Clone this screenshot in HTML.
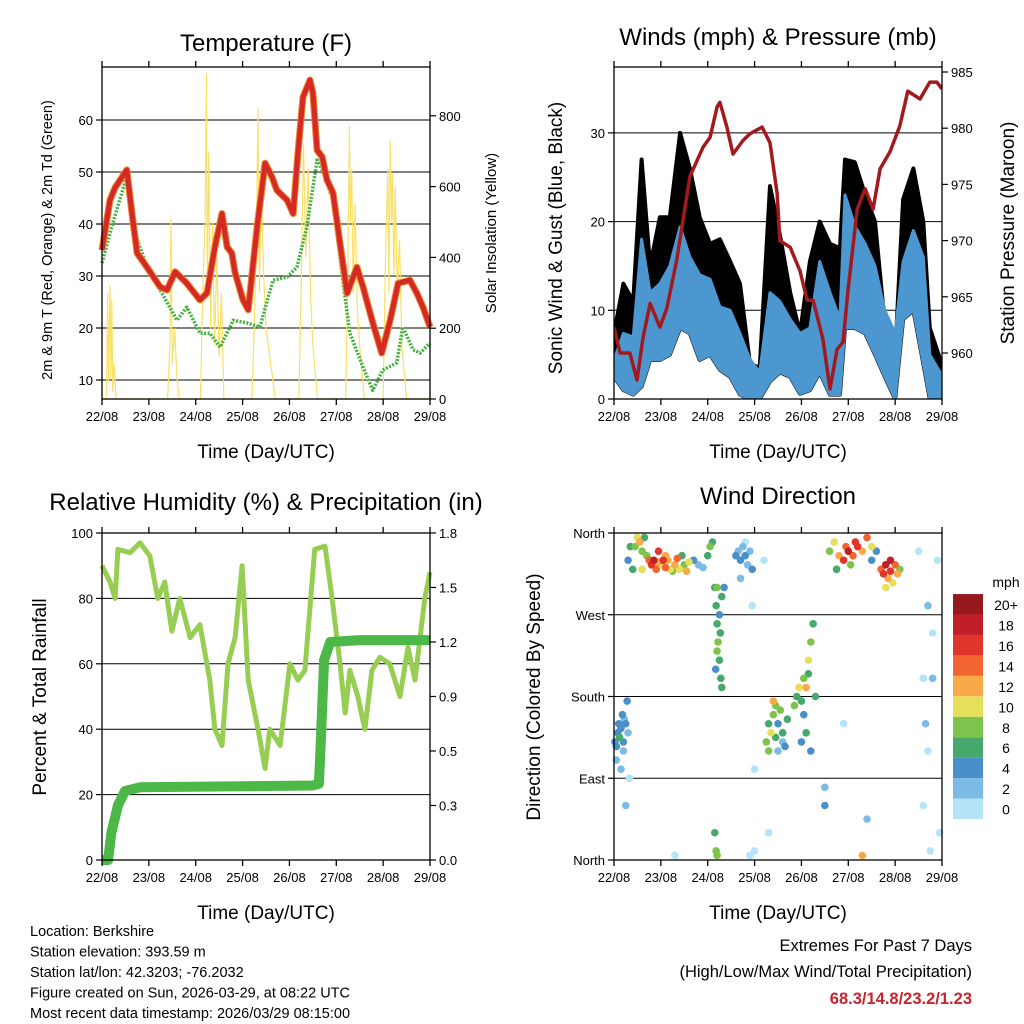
<!DOCTYPE html>
<html><head><meta charset="utf-8"><style>
body{margin:0;background:#fff}
svg{display:block;font-family:"Liberation Sans",sans-serif}
</style></head><body>
<svg id="s" width="1024" height="1024" viewBox="0 0 1024 1024"></svg>
<script>
// ---------- DATA ----------
const dayLabels=["22/08","23/08","24/08","25/08","26/08","27/08","28/08","29/08"];
// Temperature (F) vs time in days
const tempT=[0,0.17,0.28,0.53,0.64,0.75,0.96,1.24,1.39,1.56,1.81,2.09,2.24,2.41,2.56,2.67,2.77,2.84,3.01,3.12,3.31,3.48,3.63,3.73,3.95,4.08,4.18,4.29,4.44,4.5,4.59,4.7,4.8,4.93,5.08,5.23,5.44,5.57,5.78,5.97,6.15,6.32,6.57,6.72,6.85,7];
const tempV=[35,44.6,47,50.4,42,34.4,31.7,27.9,27.3,30.8,28.6,25.4,26.7,35.6,42,35.6,34.4,30.6,25.4,23.5,39.4,51.7,49,46.5,44.6,42,53.6,64.4,67.7,65.2,54.2,52.9,48.5,46,36.3,26.7,31.7,27.9,21,15.2,21.5,28.6,29.2,26.7,24,20.2];
const dewT=[0,0.23,0.55,0.66,0.96,1.24,1.6,1.81,2.09,2.3,2.52,2.8,3.09,3.37,3.65,3.95,4.16,4.37,4.59,4.7,4.93,5.14,5.29,5.57,5.78,5.99,6.29,6.42,6.64,6.79,7];
const dewV=[32.5,40.2,49.8,39.4,31.7,27.3,21.5,24,19,19,16.3,21.5,21,20.2,29.2,29.8,31.7,39.4,52.3,50.4,44.6,29.2,19,12.5,8,11.9,13.3,20.2,15.8,15.2,17.1];
const solarT=[0,0.1,0.12,0.14,0.17,0.19,0.21,0.23,0.26,0.3,1.4,1.45,1.47,1.5,1.55,1.6,1.65,2.1,2.15,2.2,2.23,2.25,2.28,2.32,2.36,2.4,2.45,2.5,2.55,2.6,3.2,3.25,3.3,3.33,3.36,3.4,3.45,3.5,3.6,3.7,4.2,4.25,4.3,4.35,4.4,4.45,4.5,4.6,5.2,5.25,5.28,5.3,5.33,5.36,5.4,5.45,5.5,5.6,6.0,6.05,6.1,6.12,6.15,6.18,6.2,6.23,6.26,6.3,6.35,6.4,6.5,7];
const solarV=[0,0,300,50,320,60,280,20,100,0,0,150,510,100,200,60,0,0,300,500,920,300,700,200,500,150,400,120,300,0,0,200,500,820,300,600,350,200,100,0,0,300,723,400,650,300,150,0,0,400,770,500,650,300,550,250,150,0,0,400,650,300,730,500,640,350,600,300,450,150,0,0];
// Winds (mph)
const windT=[0,0.2,0.41,0.59,0.77,0.98,1.19,1.41,1.62,1.83,2.05,2.26,2.48,2.69,2.9,3.11,3.33,3.54,3.76,3.97,4.18,4.39,4.61,4.82,4.93,5.14,5.36,5.57,5.78,6.0,6.17,6.39,6.6,6.74,6.96,7];
const windMin=[2.5,1,0.5,1.4,4.4,4.4,5,8,7.4,4.4,5,3.3,2.5,0.5,0,0,2,3,2.5,0.6,1,3,0.5,0.5,8,8,7.4,5,2.5,0,9,10,4,0,0,0];
const windMax=[4.4,7.4,7,18,12,13,15,19.4,16,14,13.5,10.4,10,7.4,4.5,3,12,11,9,7.4,8,15.5,12,9,23,19.5,17.5,15,10,7.4,15.5,19,16,5,3,1];
const gustMax=[7.4,13,11,27,15,20.5,20.5,30,26,20.5,17.5,18,15.5,13,4,3.5,24,18.5,12,7.4,15.5,20,17.5,17,27,26.7,23,20,8.5,5,22.5,26,20,8,4.5,2];
const presT=[0,0.13,0.34,0.49,0.62,0.77,0.98,1.13,1.34,1.62,1.9,2.05,2.2,2.26,2.41,2.54,2.75,2.9,3.16,3.33,3.48,3.54,3.76,3.97,4.12,4.25,4.46,4.61,4.76,4.89,4.99,5.19,5.36,5.53,5.68,5.89,6.1,6.27,6.53,6.74,6.89,7];
const presV=[962.3,960,960,957.6,961.4,964.4,962.3,964,968.3,975.7,978.3,979.2,981.9,982.3,980.1,977.7,978.9,979.5,980.1,978.7,974.2,970,969.4,967.3,964.7,964.7,961.2,956.8,960.3,961,965.4,972.8,974.6,972.8,976.4,977.9,980.2,983.3,982.6,984.1,984.1,983.5];
// RH & precip
const rhT=[0,0.17,0.28,0.34,0.6,0.81,1.02,1.19,1.34,1.49,1.66,1.88,2.09,2.3,2.41,2.56,2.69,2.84,2.99,3.12,3.33,3.48,3.58,3.8,4.01,4.18,4.33,4.54,4.76,4.91,5.08,5.19,5.29,5.46,5.61,5.76,5.93,6.14,6.36,6.53,6.68,6.89,7];
const rhV=[90,85,80,95,94,97,93,80,85,70,80,68,72,55,40,35,60,68,90,55,40,28,40,35,60,55,58,95,96,80,60,45,58,50,40,58,62,60,50,65,55,80,88];
const rainT=[0,0.13,0.2,0.34,0.49,0.81,4.5,4.63,4.66,4.74,4.87,5.5,7];
const rainV=[0,0,0.15,0.3,0.38,0.4,0.41,0.42,0.6,1.1,1.2,1.21,1.21];
// Wind direction points: time(days), direction(deg), speed(mph)
const dirPts=[[0.02,130,4],[0.05,125,5],[0.08,140,4],[0.1,150,5],[0.12,135,6],[0.15,145,4],[0.18,160,5],[0.2,130,4],[0.22,155,3],[0.25,150,4],[0.28,175,5],[0.3,140,3],[0.05,110,2],[0.15,100,2],[0.33,90,1],[0.2,120,2],[0.25,60,2],
[0.45,345,8],[0.5,355,10],[0.55,350,12],[0.6,340,8],[0.65,355,6],[0.7,335,9],[0.75,330,14],[0.8,325,16],[0.85,330,18],[0.9,320,14],[0.95,328,12],[1.0,325,10],[1.05,330,16],[1.1,322,14],[1.15,330,12],[1.2,320,10],[1.25,318,8],[1.3,325,12],[1.35,332,14],[1.4,320,10],[1.45,335,6],[1.5,325,8],[1.55,318,12],[1.6,328,10],[1.7,330,4],[1.8,325,2],[1.9,322,3],[2.0,335,6],[2.05,345,8],[2.1,350,6],[0.3,330,4],[0.35,345,6],[0.4,320,6],[0.6,320,10],[0.95,340,16],[1.1,335,12],
[2.15,300,6],[2.18,280,7],[2.2,260,6],[2.22,240,8],[2.25,220,6],[2.28,200,7],[2.3,190,6],[2.2,300,8],[2.3,290,7],[2.25,270,4],[2.35,300,4],[2.15,30,6],[2.18,10,8],[2.2,230,8],[2.27,250,6],[2.17,210,5],
[2.6,335,4],[2.65,340,3],[2.7,330,4],[2.75,345,2],[2.8,335,4],[2.85,325,3],[2.9,340,2],[2.95,320,4],[2.7,310,2],[2.8,350,1],[2.9,5,1],[3.0,10,1],[2.95,280,1],[3.2,330,1],
[3.25,130,8],[3.3,150,6],[3.35,140,10],[3.4,160,8],[3.45,135,6],[3.5,150,4],[3.55,165,8],[3.6,140,6],[3.65,125,4],[3.7,155,6],[3.3,120,8],[3.5,120,2],[3.6,130,2],[3.4,175,12],[3.45,170,9],
[3.85,170,8],[3.9,180,6],[3.95,190,10],[4.0,175,6],[4.05,200,8],[4.1,190,12],[4.15,220,10],[4.2,240,8],[4.25,260,6],[4.3,180,6],[4.0,130,4],[4.1,140,6],[4.2,120,4],[4.15,205,6],[4.05,160,4],
[4.6,340,8],[4.7,350,10],[4.8,335,12],[4.9,330,16],[5.0,340,18],[5.1,335,14],[5.2,345,16],[5.3,340,12],[5.4,355,14],[5.5,345,10],[4.75,320,6],[5.05,325,8],[4.95,345,14],[5.15,350,16],[5.6,340,4],[5.5,330,4],
[5.7,320,14],[5.75,315,16],[5.8,325,18],[5.85,310,12],[5.9,318,16],[5.95,305,10],[6.0,325,14],[6.05,315,12],[6.1,320,8],[5.8,300,10],[5.9,330,18],
[6.5,340,1],[6.6,200,1],[6.65,150,2],[6.7,120,1],[6.8,250,1],[6.9,330,1],[6.95,30,0],[6.6,60,1],[6.75,10,0],[4.5,80,2],[4.5,60,4],[3.0,100,1],[1.3,5,0],[5.3,5,12],[2.2,5,8],[3.3,30,1],[4.9,150,1],[5.4,45,3],[6.7,280,3],[6.8,200,3]];
const windColors=["#b5e3f8","#7bbbe6","#4a8fc8","#47a86d","#7ec34c","#e5e05a","#f8aa48","#f26530","#e0352b","#c21e25","#961a1d"];
const windLabels=["0","2","4","6","8","10","12","14","16","18","20+"];

// ---------- helpers ----------
const S=document.getElementById('s');const NS="http://www.w3.org/2000/svg";
function mk(tag,attrs,parent){const e=document.createElementNS(NS,tag);for(const k in attrs)e.setAttribute(k,attrs[k]);(parent||S).appendChild(e);return e;}
function txt(x,y,s,size,anchor,rot,fill,weight){const e=mk('text',{x:x,y:y,'font-size':size,'text-anchor':anchor||'middle',fill:fill||'#000'});if(rot)e.setAttribute('transform','rotate('+rot+' '+x+' '+y+')');if(weight)e.setAttribute('font-weight',weight);e.textContent=s;return e;}
function linePath(ts,vs,xf,yf){return ts.map((t,i)=>(i?'L':'M')+xf(t).toFixed(1)+','+yf(vs[i]).toFixed(1)).join('');}
function frame(x0,y0,x1,y1,name){
  const f=mk('rect',{x:x0,y:y0,width:x1-x0,height:y1-y0,fill:'none',stroke:'#000','stroke-width':1.3});
  
  const g=mk('g',{});
  for(let i=0;i<8;i++){const x=x0+(x1-x0)*i/7;
    mk('line',{x1:x,x2:x,y1:y1,y2:y1+6,stroke:'#000','stroke-width':1.3},g);
    mk('line',{x1:x,x2:x,y1:y0,y2:y0-6,stroke:'#000','stroke-width':1.3},g);
    const t=txt(x,y1+22,dayLabels[i],13);g.appendChild(t);}
  const t=txt((x0+x1)/2,y1+59,'Time (Day/UTC)',19);
}
function hgrid(x0,x1,ys,g){ys.forEach(y=>mk('line',{x1:x0,x2:x1,y1:y,y2:y,stroke:'#000','stroke-width':1},g));}
function ticksL(x,ys,labels,g){ys.forEach((y,i)=>{mk('line',{x1:x,x2:x-6,y1:y,y2:y,stroke:'#000','stroke-width':1.2},g);const t=txt(x-9,y+5,labels[i],13,'end');g.appendChild(t);});}
function ticksR(x,ys,labels,g){ys.forEach((y,i)=>{mk('line',{x1:x,x2:x+6,y1:y,y2:y,stroke:'#000','stroke-width':1.2},g);const t=txt(x+9,y+5,labels[i],13,'start');g.appendChild(t);});}

// ---------- Panel 1: Temperature ----------
{const X0=102,X1=430,Y0=67,Y1=399;
const xs=t=>X0+(X1-X0)*t/7, yT=v=>380-(v-10)*5.2, yS=v=>399-v*0.354;
txt(266,51,'Temperature (F)',24);
const gy=mk('g',{});
const tv=[10,20,30,40,50,60];hgrid(X0,X1,tv.map(yT),gy);ticksL(X0,tv.map(yT),tv.map(String),gy);
const sv=[0,200,400,600,800];ticksR(X1,sv.map(yS),sv.map(String),gy);
const yl=txt(52,240,'2m & 9m T (Red, Orange) & 2m Td (Green)',14.5,'middle',-90);
const yr=txt(496,233,'Solar Insolation (Yellow)',15,'middle',-90);
let p=mk('path',{d:linePath(solarT,solarV,xs,yS),fill:'none',stroke:'#f9e066','stroke-width':1.2});
p=mk('path',{d:linePath(dewT,dewV,xs,yT),fill:'none',stroke:'#45b040','stroke-width':3.5,'stroke-dasharray':'2 1.5','stroke-linejoin':'round'});
p=mk('path',{d:linePath(tempT,tempV,xs,yT),fill:'none',stroke:'#f08a30','stroke-width':7,'stroke-linejoin':'round'});
p=mk('path',{d:linePath(tempT,tempV,xs,yT),fill:'none',stroke:'#d42a26','stroke-width':5,'stroke-linejoin':'round'});
frame(X0,Y0,X1,Y1,'temperature');}

// ---------- Panel 2: Winds ----------
{const X0=614,X1=942,Y0=67,Y1=399;
const xs=t=>X0+(X1-X0)*t/7, yW=v=>399-v*8.87, yP=v=>353-(v-960)*11.24;
txt(778,45,'Winds (mph) & Pressure (mb)',24);
const gy=mk('g',{});
const wv=[0,10,20,30];hgrid(X0,X1,wv.map(yW),gy);ticksL(X0,wv.map(yW),wv.map(String),gy);
const pv=[960,965,970,975,980,985];ticksR(X1,pv.map(yP),pv.map(String),gy);
const yl=txt(562,238,'Sonic Wind & Gust (Blue, Black)',19,'middle',-90);
const yr=txt(1014,233,'Station Pressure (Maroon)',19,'middle',-90);
const rev=a=>a.slice().reverse();
const clip=mk('clipPath',{id:'wc'});mk('rect',{x:X0,y:Y0,width:X1-X0,height:Y1-Y0},clip);
const wg=mk('g',{'clip-path':'url(#wc)'});
let p=mk('path',{d:linePath(windT,gustMax,xs,yW)+linePath(rev(windT),rev(windMin),xs,yW).replace('M','L')+'Z',fill:'#000',stroke:'#000','stroke-width':4,'stroke-linejoin':'round'},wg);
p=mk('path',{d:linePath(windT,windMax,xs,yW)+linePath(rev(windT),rev(windMin),xs,yW).replace('M','L')+'Z',fill:'#4d97d0',stroke:'#4d97d0','stroke-width':3,'stroke-linejoin':'round'},wg);
p=mk('path',{d:linePath(presT,presV,xs,yP),fill:'none',stroke:'#a31a1e','stroke-width':3.5,'stroke-linejoin':'round'},wg);
frame(X0,Y0,X1,Y1,'winds');}

// ---------- Panel 3: RH & Precip ----------
{const X0=102,X1=430,Y0=533,Y1=860;
const xs=t=>X0+(X1-X0)*t/7, yR=v=>860-v*3.27, yP=v=>860-v*181.7;
txt(266,510,'Relative Humidity (%) & Precipitation (in)',24);
const gy=mk('g',{});
const rv=[0,20,40,60,80,100];hgrid(X0,X1,rv.map(yR),gy);ticksL(X0,rv.map(yR),rv.map(String),gy);
const pv=[0,0.3,0.6,0.9,1.2,1.5,1.8];ticksR(X1,pv.map(yP),["0.0","0.3","0.5","0.9","1.2","1.5","1.8"],gy);
const yl=txt(46,697,'Percent & Total Rainfall',19,'middle',-90);
let p=mk('path',{d:linePath(rhT,rhV,xs,yR),fill:'none',stroke:'#97cd52','stroke-width':5,'stroke-linejoin':'round'});
p=mk('path',{d:linePath(rainT,rainV,xs,yP),fill:'none',stroke:'#4cb848','stroke-width':10,'stroke-linejoin':'round'});
frame(X0,Y0,X1,Y1,'humidity');}

// ---------- Panel 4: Wind direction ----------
{const X0=614,X1=942,Y0=533,Y1=860;
const xs=t=>X0+(X1-X0)*t/7, yD=v=>860-v*(327/360);
txt(778,504,'Wind Direction',24);
const gy=mk('g',{});
const dv=[0,90,180,270,360];hgrid(X0,X1,dv.map(yD),gy);ticksL(X0,dv.map(yD),["North","East","South","West","North"],gy);
const yl=txt(540,697,'Direction (Colored By Speed)',19,'middle',-90);
const g=mk('g',{});
const order=dirPts.slice().sort((a,b)=>a[2]-b[2]);
order.forEach(d=>{const c=mk('circle',{cx:xs(d[0]),cy:yD(d[1]),r:3.8,fill:windColors[Math.min(10,Math.floor(d[2]/2))]},g);

});
frame(X0,Y0,X1,Y1,'direction');
const lg=mk('g',{});
txt(1006,587,'mph',14,'middle');
for(let i=0;i<11;i++){const y=819-(i+1)*20.45;mk('rect',{x:953,y:y,width:30,height:20.45,fill:windColors[i]},lg);const t=txt(1006,y+16,windLabels[i],14);lg.appendChild(t);}
}

// ---------- Footer ----------
const info=["Location: Berkshire","Station elevation: 393.59 m","Station lat/lon: 42.3203; -76.2032","Figure created on Sun, 2026-03-29, at 08:22 UTC","Most recent data timestamp: 2026/03/29 08:15:00"];
info.forEach((s,i)=>{const t=txt(30,936+i*20.5,s,14.5,'start');});
txt(972,951,'Extremes For Past 7 Days',16.5,'end');
txt(972,977,'(High/Low/Max Wind/Total Precipitation)',16.5,'end');
txt(972,1004,'68.3/14.8/23.2/1.23',16.5,'end','','#c8242b','bold');
</script>
</body></html>
